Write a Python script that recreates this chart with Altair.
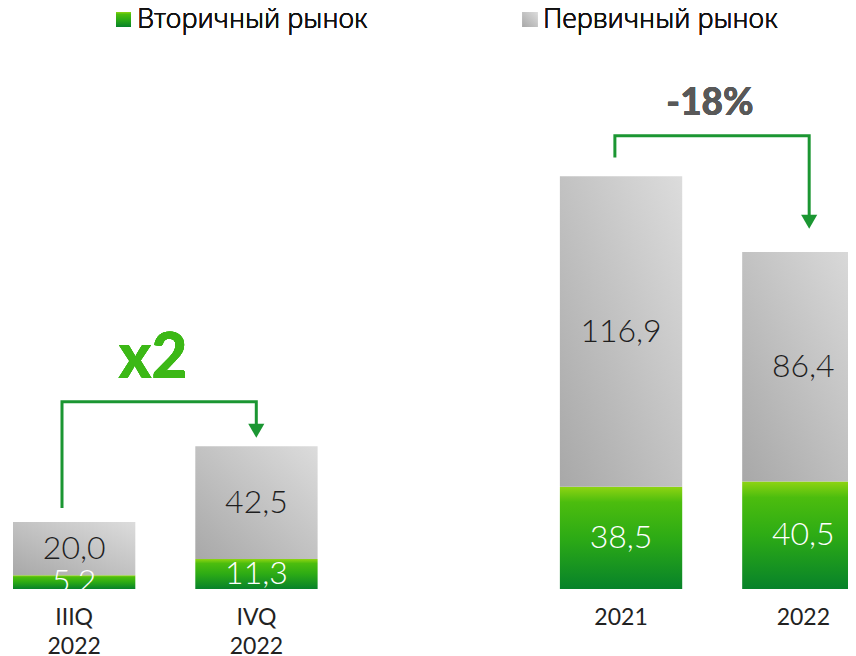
import altair as alt
import pandas as pd

# ---- data ----
periods = ["IIIQ 2022", "IVQ 2022", "2021", "2022"]
x_domain = ["IIIQ 2022", "IVQ 2022", "gap", "2021", "2022"]
secondary = [5.2, 11.3, 38.5, 40.5]    # Вторичный рынок
primary = [20.0, 42.5, 116.9, 86.4]    # Первичный рынок
legend_labels = ["Вторичный рынок", "Первичный рынок"]
growth_label = "x2"
change_label = "-18%"


def fmt(v):
    return f"{v:.1f}".replace(".", ",")


sec_df = pd.DataFrame({
    "period": periods,
    "start": [0.0] * len(periods),
    "end": secondary,
    "label": [fmt(v) for v in secondary],
})
sec_df["mid"] = (sec_df["start"] + sec_df["end"]) / 2

prim_df = pd.DataFrame({
    "period": periods,
    "start": secondary,
    "end": [s + p for s, p in zip(secondary, primary)],
    "label": [fmt(v) for v in primary],
})
prim_df["mid"] = (prim_df["start"] + prim_df["end"]) / 2

# connector arrows (annotation): category + value, with a shift inside the band
arrow_left = pd.DataFrame({
    "period": ["IIIQ 2022", "IIIQ 2022", "IVQ 2022", "IVQ 2022"],
    "v": [30.5, 70.5, 70.5, 60.0],
    "dx": [49, 49, 61, 61],
    "o": [0, 1, 2, 3],
})
arrow_right = pd.DataFrame({
    "period": ["2021", "2021", "2022", "2022"],
    "v": [162.5, 170.7, 170.7, 140.0],
    "dx": [55, 55, 67, 67],
    "o": [0, 1, 2, 3],
})
heads = pd.DataFrame({"period": ["IVQ 2022", "2022"], "v": [59.6, 138.3], "dx": [61, 67]})

FONT = "Lato"
LEG_FONT = "Noto Sans"
ARROW = "#1b9632"

green_grad = alt.LinearGradient(
    gradient="linear",
    stops=[
        alt.GradientStop(offset=0, color="#8fd412"),
        alt.GradientStop(offset=0.15, color="#4cbd0e"),
        alt.GradientStop(offset=0.5, color="#2dab15"),
        alt.GradientStop(offset=1, color="#07822a"),
    ],
    x1=0, x2=0, y1=0, y2=1,
)
gray_grad = alt.LinearGradient(
    gradient="linear",
    stops=[
        alt.GradientStop(offset=0, color="#a8a8a8"),
        alt.GradientStop(offset=1, color="#dcdcdc"),
    ],
    x1=0, x2=1, y1=1, y2=0,
)

x_enc = alt.X(
    "period:N",
    scale=alt.Scale(domain=x_domain, range=[13, 864.5], paddingInner=0.329, paddingOuter=0),
    axis=alt.Axis(
        title=None, domain=False, ticks=False, labelAngle=0,
        labelFont=FONT, labelFontSize=23, labelFontWeight=400, labelColor="#222222",
        labelPadding=17, labelLineHeight=29, labelOverlap=False, labelBound=False,
        labelFlush=False,
        labelExpr="datum.label == 'gap' ? '' : split(datum.label, ' ')",
    ),
)
y_scale = alt.Scale(domain=[0, 221.8])

bars_sec = alt.Chart(sec_df).mark_bar(color=green_grad).encode(
    x=x_enc,
    y=alt.Y("start:Q", scale=y_scale, axis=None),
    y2="end:Q",
)
bars_prim = alt.Chart(prim_df).mark_bar(color=gray_grad).encode(
    x=x_enc,
    y=alt.Y("start:Q", scale=y_scale, axis=None),
    y2="end:Q",
)
txt_sec = alt.Chart(sec_df).mark_text(
    font=FONT, fontSize=32, fontWeight=300, color="white", baseline="middle"
).encode(x=x_enc, y=alt.Y("mid:Q", scale=y_scale), text="label:N")
txt_prim = alt.Chart(prim_df).mark_text(
    font=FONT, fontSize=32, fontWeight=300, color="#1e1e1e", baseline="middle"
).encode(x=x_enc, y=alt.Y("mid:Q", scale=y_scale), text="label:N")

line_l = alt.Chart(arrow_left).mark_line(color=ARROW, strokeWidth=3).encode(
    x=x_enc, xOffset=alt.XOffset("dx:Q", scale=None),
    y=alt.Y("v:Q", scale=y_scale), order="o:Q")
line_r = alt.Chart(arrow_right).mark_line(color=ARROW, strokeWidth=3).encode(
    x=x_enc, xOffset=alt.XOffset("dx:Q", scale=None),
    y=alt.Y("v:Q", scale=y_scale), order="o:Q")
head_pts = alt.Chart(heads).mark_point(
    shape="triangle-down", filled=True, size=260, color=ARROW, opacity=1
).encode(x=x_enc, xOffset=alt.XOffset("dx:Q", scale=None), y=alt.Y("v:Q", scale=y_scale))

x2_txt = alt.Chart(sec_df).mark_text(
    font=FONT, fontSize=62, fontWeight=900, color="#3cb816", baseline="alphabetic", align="center"
).encode(x=alt.value(153), y=alt.value(378), text=alt.value(growth_label))
pct_txt = alt.Chart(sec_df).mark_text(
    font=FONT, fontSize=37, fontWeight=900, color="#595959", baseline="alphabetic", align="center"
).encode(x=alt.value(710), y=alt.value(115), text=alt.value(change_label))

leg_sq_g = alt.Chart(sec_df).mark_square(size=225, color=green_grad, opacity=1, filled=True).encode(
    x=alt.value(123.5), y=alt.value(19.5))
leg_sq_p = alt.Chart(sec_df).mark_square(size=225, color=gray_grad, opacity=1, filled=True).encode(
    x=alt.value(530), y=alt.value(19.5))
leg_t_g = alt.Chart(sec_df).mark_text(
    font=LEG_FONT, fontSize=27, fontWeight=300, color="#111111", align="left", baseline="alphabetic"
).encode(x=alt.value(137), y=alt.value(27.5), text=alt.value(legend_labels[0]))
leg_t_p = alt.Chart(sec_df).mark_text(
    font=LEG_FONT, fontSize=27, fontWeight=300, color="#111111", align="left", baseline="alphabetic"
).encode(x=alt.value(543), y=alt.value(27.5), text=alt.value(legend_labels[1]))

chart = alt.layer(
    bars_sec, bars_prim, txt_sec, txt_prim, line_l, line_r, head_pts,
    x2_txt, pct_txt, leg_sq_g, leg_sq_p, leg_t_g, leg_t_p,
).properties(
    width=848, height=589,
    autosize="none",
    padding={"left": -8, "top": -8, "right": 0, "bottom": 65},
).configure(background="white").configure_view(stroke=None)

chart.save("out.html", embed_options={"renderer": "svg", "actions": False})
